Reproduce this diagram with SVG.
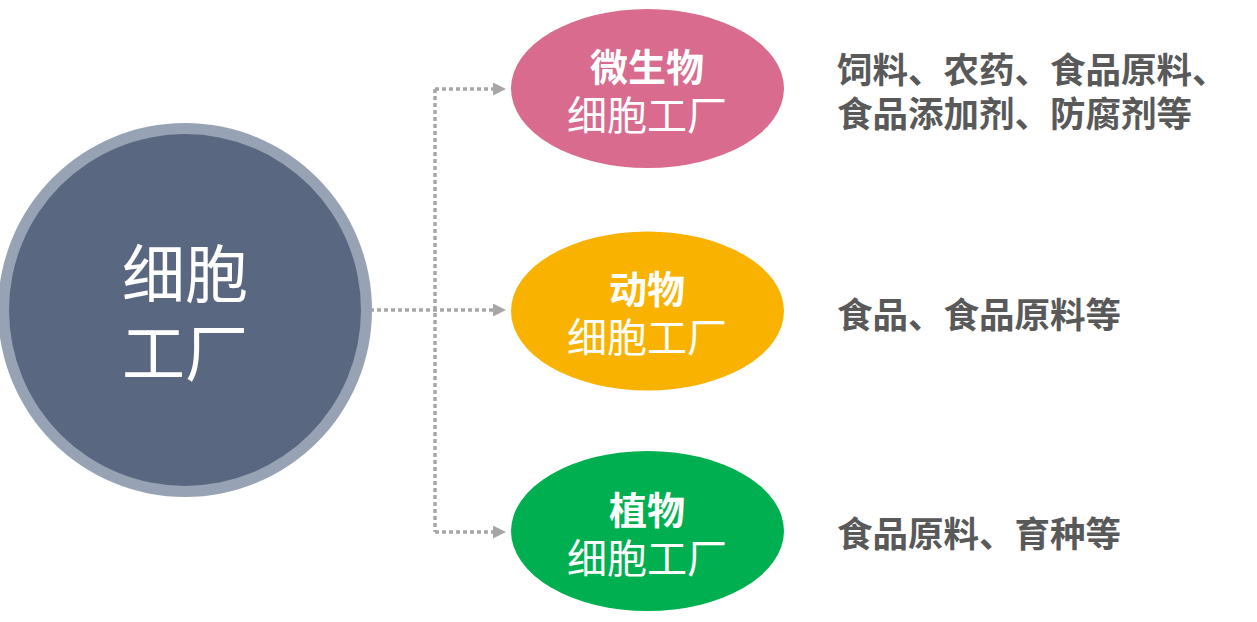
<svg xmlns="http://www.w3.org/2000/svg" width="1257" height="622" viewBox="0 0 1257 622">
<defs>
<style>
text{font-family:"Noto Sans CJK SC","Noto Sans",sans-serif;dominant-baseline:central}
.w{fill:#FFFFFF;text-anchor:middle}
.b{font-weight:700}
.d{fill:#595959;font-weight:700;font-size:35.5px}
.con{fill:none;stroke:#A6A6A6;stroke-width:3.5;stroke-dasharray:4 3}
</style>
<marker id="arr" markerUnits="userSpaceOnUse" markerWidth="13" markerHeight="13" refX="0" refY="6.5" orient="auto">
<path d="M0,0 L13,6.5 L0,13 Z" fill="#A6A6A6"/>
</marker>
</defs>
<rect width="1257" height="622" fill="#FFFFFF"/>
<g id="connectors">
<path class="con" d="M435,89 V532"/>
<path class="con" d="M363,310 H493" marker-end="url(#arr)"/>
<path class="con" d="M435,89 H493" marker-end="url(#arr)"/>
<path class="con" d="M435,532 H493" marker-end="url(#arr)"/>
</g>
<g id="center">
<circle cx="185" cy="310" r="187" fill="#97A3B4"/>
<circle cx="185" cy="310" r="176" fill="#5A6780"/>
<text class="w" x="185" y="269" font-size="63">细胞</text>
<text class="w" x="185" y="348" font-size="63">工厂</text>
</g>
<g id="micro">
<ellipse cx="647.5" cy="88.5" rx="136.5" ry="79.5" fill="#D86B8E"/>
<text class="w b" x="647" y="64" font-size="38">微生物</text>
<text class="w" x="647" y="113" font-size="40">细胞工厂</text>
</g>
<g id="animal">
<ellipse cx="647.5" cy="311" rx="136.5" ry="79.5" fill="#F9B200"/>
<text class="w b" x="647" y="286" font-size="38">动物</text>
<text class="w" x="647" y="335" font-size="40">细胞工厂</text>
</g>
<g id="plant">
<ellipse cx="647.5" cy="531" rx="136.5" ry="80" fill="#00AF50"/>
<text class="w b" x="647" y="507" font-size="38">植物</text>
<text class="w" x="647" y="556" font-size="40">细胞工厂</text>
</g>
<g id="micro-desc">
<text class="d" x="837" y="67">饲料、农药、食品原料、</text>
<text class="d" x="837" y="111">食品添加剂、防腐剂等</text>
</g>
<g id="animal-desc">
<text class="d" x="837" y="312">食品、食品原料等</text>
</g>
<g id="plant-desc">
<text class="d" x="837" y="531">食品原料、育种等</text>
</g>
</svg>
